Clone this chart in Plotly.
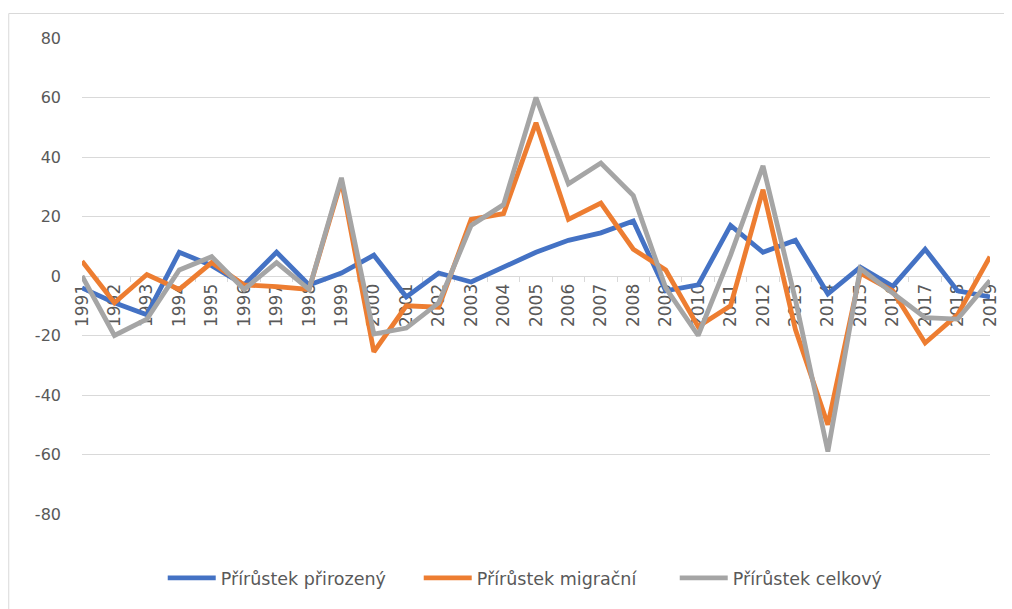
import plotly.graph_objects as go

years = [str(y) for y in range(1991, 2020)]
prirozeny = [-4, -9, -13, 8, 3.5, -3, 8, -3, 1, 7, -7, 1, -2, 3, 8, 12, 14.5, 18.5,
             -5, -3, 17, 8, 12, -6, 3, -3.5, 9, -5, -7]
migracni = [5, -9, 0.5, -4.5, 4.5, -3, -3.6, -4.5, 32, -25.5, -10, -10.5, 19, 21, 51.5,
            19, 24.5, 9, 2, -17, -10, 29, -18, -50, 1, -5, -22.5, -13, 6.5]
celkovy = [0, -20, -14.5, 2, 6.5, -4.5, 4.5, -4.5, 33, -19.5, -17.5, -9, 17, 24, 60,
           31, 38, 27, -4, -20, 7, 37, -8, -59, 2.5, -5.5, -14, -14.5, -1.5]

series_names = ["Přírůstek přirozený", "Přírůstek migrační", "Přírůstek celkový"]
colors = ["#4472C4", "#ED7D31", "#A5A5A5"]

y_tickvals = [-80, -60, -40, -20, 0, 20, 40, 60, 80]
y_ticktext = ["-80", "-60", "-40", "-20", "0", "20", "40", "60", "80"]

fig = go.Figure()
for name, vals, col in zip(series_names, [prirozeny, migracni, celkovy], colors):
    fig.add_trace(go.Scatter(x=years, y=vals, name=name, mode="lines",
                             line=dict(color=col, width=4.8)))

OFF = 8  # page body margin
W, H = 1012 - OFF, 609 - OFF
L, T = 82 - OFF, 38 - OFF
pw, ph = 911, 476
R, B = W - L - pw, H - T - ph

def px_to_paper_x(px):
    return (px - OFF - L) / pw

def px_to_paper_y(py):
    return (T + ph - (py - OFF)) / ph

fig.update_layout(
    width=W, height=H,
    margin=dict(l=L, r=R, t=T, b=B),
    paper_bgcolor="white", plot_bgcolor="white",
    font=dict(family="DejaVu Sans", color="#595959"),
    showlegend=True,
    legend=dict(orientation="h", xanchor="left", yanchor="middle",
                x=px_to_paper_x(163), y=px_to_paper_y(578),
                font=dict(size=17.5, color="#595959"), itemwidth=48,
                entrywidth=193, entrywidthmode="pixels"),
    xaxis=dict(type="category", anchor="free", position=0.5,
               showgrid=False, showline=True, linecolor="#d9d9d9", linewidth=1,
               ticks="outside", tickson="boundaries", ticklen=5, tickcolor="#d9d9d9",
               tickangle=-90, tickfont=dict(size=17, color="#595959"),
               layer="below traces", zeroline=False),
    yaxis=dict(range=[-80, 80], tickvals=y_tickvals, ticktext=y_ticktext,
               showgrid=True, gridcolor="#d9d9d9", gridwidth=1, zeroline=False,
               showline=False, ticks="", ticklabelstandoff=20,
               tickfont=dict(size=16, color="#595959")),
    shapes=[dict(type="rect", xref="paper", yref="paper",
                 x0=px_to_paper_x(8.5), x1=px_to_paper_x(1030),
                 y0=px_to_paper_y(640), y1=px_to_paper_y(13.5),
                 line=dict(color="#d9d9d9", width=1), fillcolor="rgba(0,0,0,0)",
                 layer="below")],
)

fig.write_html("out.html")
